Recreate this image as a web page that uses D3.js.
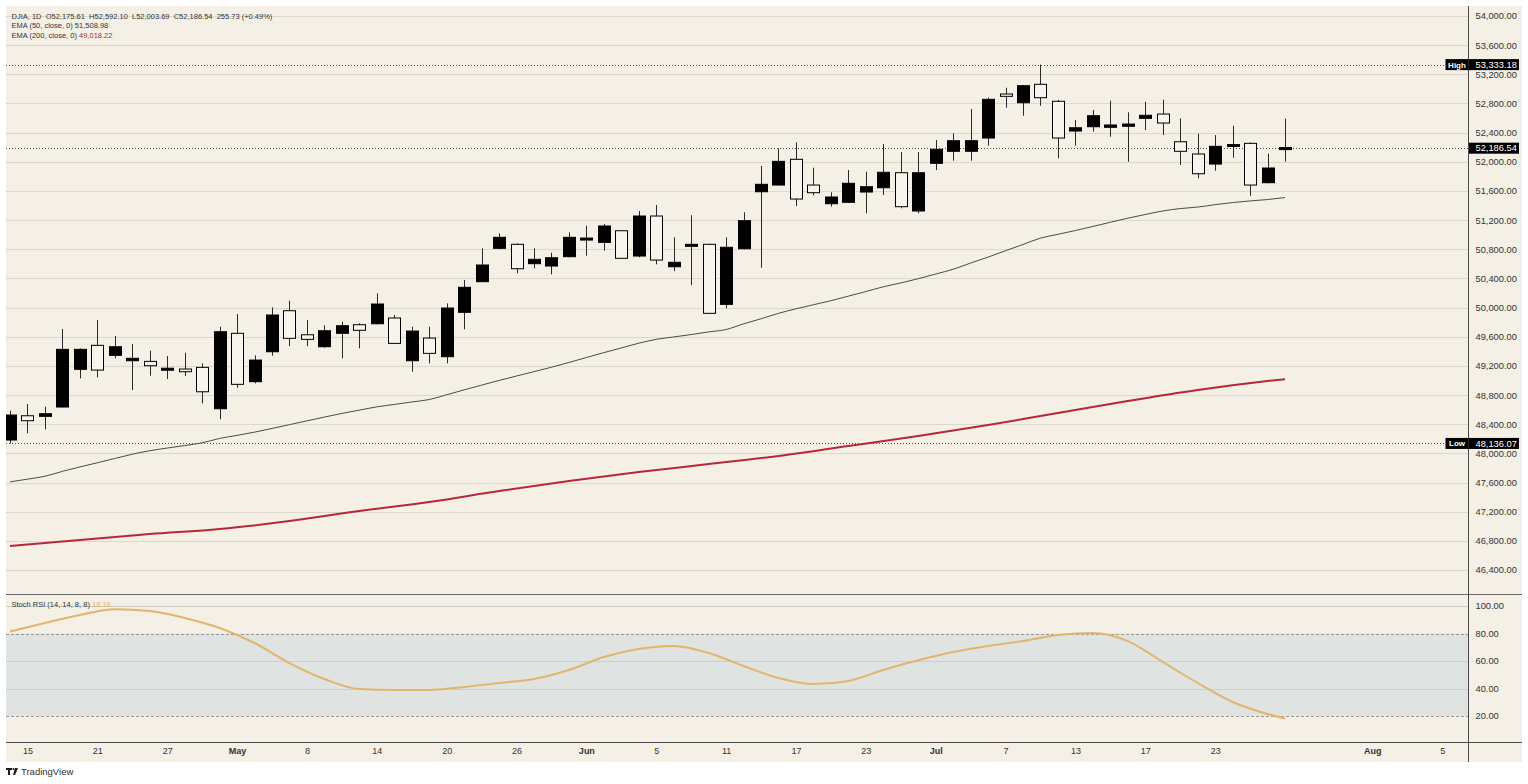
<!DOCTYPE html>
<html>
<head>
<meta charset="utf-8">
<script src="https://cdn.jsdelivr.net/npm/d3@7"></script>
<style>
  body { margin: 0; background: #fff; }
  text { font-family: "Liberation Sans", Arial, sans-serif; }
</style>
</head>
<body>
<svg id="chart"></svg>
<script>
////Data
const opens  = [48183,48516,48508,48636,49153,49482,49345,49271,49262,49143,49157,49180,48612,49647,48983,49394,49957,49627,49463,49647,
                49765,49778,49857,49271,49582,49326,49935,50355,50813,50868,50602,50570,50698,50935,50895,51054,50707,51256,50560,50850,
                50868,50044,50807,51589,51681,52034,51681,51425,51444,51585,51644,51850,51325,51979,52144,52144,52326,52930,52810,53063,
                52830,52422,52481,52473,52487,52596,52655,52275,52107,51969,52212,52253,51713,52175.61];
const highs  = [48585,48677,48640,49706,49440,49829,49610,49500,49408,49335,49381,49235,49737,49911,49345,50003,50094,49829,49756,49806,
                49784,50195,49898,49737,49737,50058,50378,50813,51019,50882,50813,50752,51032,51123,51146,51064,51325,51407,50964,51266,
                50875,50964,51307,51942,52185,52267,51919,51581,51887,51864,52244,52134,52134,52299,52391,52724,52879,53016,53050,53333.18,
                52848,52573,52710,52838,52679,52824,52852,52596,52385,52367,52495,52267,52111,52592.10];
const lows   = [48136.07,48275,48330,48630,49029,49043,49304,48869,49065,49020,49061,48686,48467,48900,48961,49339,49472,49472,49450,49304,
                49441,49770,49500,49120,49235,49235,49702,50350,50800,50470,50538,50456,50690,50711,50780,50670,50690,50593,50501,50309,
                49915,49990,50800,50547,51675,51393,51540,51384,51440,51293,51544,51362,51293,51887,52015,52015,52221,52742,52632,52769,
                52048,52221,52413,52344,52001,52436,52367,51956,51773,51878,52056,51534,51705,52003.69];
const closes = [48526,48448,48544,49427,49427,49143,49463,49304,49202,49166,49120,48845,49669,48947,49280,49898,49578,49564,49682,49751,
                49688,50049,49509,49678,49372,49994,50278,50584,50964,50533,50662,50684,50964,50945,51119,50676,51256,50652,50621,50858,
                49921,50827,51192,51691,52006,51489,51576,51517,51705,51658,51856,51384,51850,52171,52289,52289,52857,52898,53044,52879,
                52326,52467,52632,52505,52518,52638,52532,52144,51836,52212,52234,51681,51915,52186.54];

const ema50 = [47609,47646,47686,47753,47814,47871,47930,47988,48036,48073,48107,48144,48205,48247,48291,48342,48394,48446,48498,48548,
               48593,48638,48671,48705,48738,48804,48871,48936,49000,49061,49121,49182,49247,49315,49382,49446,49511,49564,49597,49630,
               49666,49699,49777,49846,49921,49983,50039,50094,50157,50220,50285,50338,50396,50460,50526,50611,50693,50780,50866,50953,
               51005,51057,51113,51170,51226,51277,51325,51358,51379,51412,51441,51463,51482,51508.98];

const ema200Idx = [0,4,8,12,16,20,24,28,32,36,40,44,48,52,56,60,64,68,72,73];
const ema200    = [46728,46811,46893,46962,47071,47209,47332,47483,47620,47744,47853,47963,48100,48238,48389,48553,48718,48869,48992,49018.22];

const stochIdx = [0,2,4,6,8,10,12,14,16,18,20,22,24,26,28,30,32,34,36,38,40,42,44,46,48,50,52,54,56,58,60,62,64,66,68,70,72,73];
const stochVal = [81.5,87.6,93.5,97.6,96.4,91.3,84,73.1,58.5,46.9,39.6,38.9,38.9,41.1,44,46.9,53.5,62.9,68.7,70.9,
                  65.8,56.4,47.6,43.2,45.5,53.5,60.5,66.5,70.9,74.5,78.9,80.4,74.5,59.3,44,30.2,21.5,18.18];

const tickIdx    = [1,5,9,13,17,21,25,29,33,37,41,45,49,53,57,61,65,69,78,82];
const tickLabels = ["15","21","27","May","8","14","20","26","Jun","5","11","17","23","Jul","7","13","17","23","Aug","5"];
const monthLabels = ["May","Jun","Jul","Aug"];

const priceTicks = d3.range(46400, 54001, 400);
const stochTicks = [20, 40, 60, 80, 100];

const highValue = 53333.18;
const lowValue = 48136.07;
const lastValue = 52186.54;

////Layout
const width = 1528;
const height = 784;
const frameLeft = 6;
const frameTop = 6;
const plotRight = 1468.5;
const frameRight = 1522;
const mainBottom = 594;
const stochBottom = 742;
const frameBottom = 762;

const bg = "#f4f0e6";
const gridColor = "#dcd8ce";
const textColor = "#333";
const red = "#b3283a";
const orange = "#e2b56c";

const svg = d3.select("#chart").attr("width", width).attr("height", height);

const x = d3.scaleLinear().domain([0, 73]).range([10, 1285]);
const y = d3.scaleLinear().domain([46400, 54000]).range([570, 16]);
const yS = d3.scaleLinear().domain([0, 100]).range([743.5, 606]);

svg.append("rect").attr("x", frameLeft).attr("y", frameTop)
  .attr("width", frameRight - frameLeft).attr("height", frameBottom - frameTop).attr("fill", bg);

const defs = svg.append("defs");
defs.append("clipPath").attr("id", "mainClip").append("rect")
  .attr("x", frameLeft).attr("y", frameTop).attr("width", plotRight - frameLeft).attr("height", mainBottom - frameTop);
defs.append("clipPath").attr("id", "stochClip").append("rect")
  .attr("x", frameLeft).attr("y", mainBottom).attr("width", plotRight - frameLeft).attr("height", stochBottom - mainBottom);

// price grid
svg.append("g").selectAll("line").data(priceTicks).enter().append("line")
  .attr("x1", frameLeft).attr("x2", plotRight)
  .attr("y1", d => Math.round(y(d)) + 0.5).attr("y2", d => Math.round(y(d)) + 0.5)
  .attr("stroke", gridColor).attr("stroke-width", 1);

// stoch band + grid
svg.append("rect").attr("x", frameLeft).attr("width", plotRight - frameLeft)
  .attr("y", yS(80)).attr("height", yS(20) - yS(80)).attr("fill", "#dfe3e1");
svg.append("g").selectAll("line").data([100, 60, 40]).enter().append("line")
  .attr("x1", frameLeft).attr("x2", plotRight)
  .attr("y1", d => Math.round(yS(d)) + 0.5).attr("y2", d => Math.round(yS(d)) + 0.5)
  .attr("stroke", "#cfcfca");
svg.append("g").selectAll("line").data([80, 20]).enter().append("line")
  .attr("x1", frameLeft).attr("x2", plotRight)
  .attr("y1", d => Math.round(yS(d)) + 0.5).attr("y2", d => Math.round(yS(d)) + 0.5)
  .attr("stroke", "#9a9a9a").attr("stroke-dasharray", "3,2");

const main = svg.append("g").attr("clip-path", "url(#mainClip)");

// moving averages
const ema50Line = d3.line().x((d, i) => x(i)).y(d => y(d)).curve(d3.curveMonotoneX);
main.append("path").datum(ema50).attr("d", ema50Line)
  .attr("fill", "none").attr("stroke", "#4a4a4a").attr("stroke-width", 1);

const ema200Line = d3.line().x((d, i) => x(ema200Idx[i])).y(d => y(d)).curve(d3.curveMonotoneX);
main.append("path").datum(ema200).attr("d", ema200Line)
  .attr("fill", "none").attr("stroke", red).attr("stroke-width", 2);

// dotted reference lines
[highValue, lowValue, lastValue].forEach(v => {
  main.append("line").attr("x1", frameLeft).attr("x2", plotRight)
    .attr("y1", Math.round(y(v)) + 0.5).attr("y2", Math.round(y(v)) + 0.5)
    .attr("stroke", "#555").attr("stroke-width", 1).attr("stroke-dasharray", "1,2");
});

// candles
const bodyW = 12;
const candles = main.selectAll("g.candle").data(opens).enter().append("g").attr("class", "candle");
candles.append("line")
  .attr("x1", (d, i) => Math.round(x(i)) + 0.5).attr("x2", (d, i) => Math.round(x(i)) + 0.5)
  .attr("y1", (d, i) => y(highs[i])).attr("y2", (d, i) => y(lows[i]))
  .attr("stroke", "#2a2a2a").attr("stroke-width", 1);
candles.append("rect")
  .attr("x", (d, i) => Math.round(x(i)) - bodyW / 2 + 0.5)
  .attr("width", bodyW)
  .attr("y", (d, i) => {
    const t = y(Math.max(opens[i], closes[i]));
    const b = y(Math.min(opens[i], closes[i]));
    return b - t < 2 ? (t + b) / 2 - 1 : t;
  })
  .attr("height", (d, i) => Math.max(2, y(Math.min(opens[i], closes[i])) - y(Math.max(opens[i], closes[i]))))
  .attr("fill", (d, i) => closes[i] >= opens[i] ? "#000" : "#f7f4ee")
  .attr("stroke", "#000").attr("stroke-width", 1);

// stoch rsi
const stochLine = d3.line().x((d, i) => x(stochIdx[i])).y(d => yS(d)).curve(d3.curveMonotoneX);
svg.append("g").attr("clip-path", "url(#stochClip)").append("path").datum(stochVal).attr("d", stochLine)
  .attr("fill", "none").attr("stroke", orange).attr("stroke-width", 2);

// frame lines
svg.append("line").attr("x1", frameLeft).attr("x2", frameRight).attr("y1", mainBottom + 0.5).attr("y2", mainBottom + 0.5)
  .attr("stroke", "#6b6b6b");
svg.append("line").attr("x1", frameLeft).attr("x2", frameRight).attr("y1", stochBottom + 0.5).attr("y2", stochBottom + 0.5)
  .attr("stroke", "#4a4a4a");
svg.append("line").attr("x1", plotRight).attr("x2", plotRight).attr("y1", frameTop).attr("y2", frameBottom)
  .attr("stroke", "#4a4a4a");

// axes
const yAxis = d3.axisRight(y).tickValues(priceTicks).tickFormat(d3.format(",.2f")).tickSize(0).tickPadding(7);
const gy = svg.append("g").attr("transform", "translate(" + plotRight + ",0)").call(yAxis);
const ySAxis = d3.axisRight(yS).tickValues(stochTicks).tickFormat(d3.format(".2f")).tickSize(0).tickPadding(7);
const gys = svg.append("g").attr("transform", "translate(" + plotRight + ",0)").call(ySAxis);
const xAxis = d3.axisBottom(x).tickValues(tickIdx).tickFormat(d => tickLabels[tickIdx.indexOf(d)]).tickSize(0).tickPadding(6);
const gx = svg.append("g").attr("transform", "translate(0," + stochBottom + ")").call(xAxis);
[gy, gys].forEach(g => {
  g.select(".domain").remove();
  g.selectAll("text").attr("fill", textColor).style("font-size", "9.3px")
    .style("font-family", "'Liberation Sans', Arial, sans-serif");
});
gx.select(".domain").remove();
gx.selectAll("text").attr("fill", textColor).style("font-size", "9px")
  .style("font-family", "'Liberation Sans', Arial, sans-serif")
  .style("font-weight", d => monthLabels.includes(tickLabels[tickIdx.indexOf(d)]) ? "bold" : "normal");

// price labels on the axis
const tagH = 11;
const addTag = (v, name) => {
  const cy = y(v);
  svg.append("rect").attr("x", plotRight + 0.5).attr("y", cy - tagH / 2).attr("width", 50).attr("height", tagH).attr("fill", "#000");
  svg.append("text").attr("x", plotRight + 7).attr("y", cy + 3.3).attr("fill", "#fff")
    .style("font-size", "9.3px").text(d3.format(",.2f")(v));
  if (name) {
    svg.append("rect").attr("x", plotRight - 23).attr("y", cy - tagH / 2).attr("width", 23).attr("height", tagH).attr("fill", "#000");
    svg.append("text").attr("x", plotRight - 11.5).attr("y", cy + 3).attr("fill", "#fff").attr("text-anchor", "middle")
      .style("font-size", "8px").style("font-weight", "bold").text(name);
  }
};
addTag(highValue, "High");
addTag(lowValue, "Low");
addTag(lastValue, null);

// legend
const legend = svg.append("g").style("font-size", "7.5px").attr("fill", textColor);
legend.append("text").attr("x", 11.5).attr("y", 18.5).style("white-space", "pre")
  .text("DJIA, 1D  O52,175.61  H52,592.10  L52,003.69  C52,186.54  255.73 (+0.49%)");
const l2 = legend.append("text").attr("x", 11.5).attr("y", 28).style("white-space", "pre");
l2.append("tspan").text("EMA (50, close, 0) ");
l2.append("tspan").text("51,508.98");
const l3 = legend.append("text").attr("x", 11.5).attr("y", 37.5).style("white-space", "pre");
l3.append("tspan").text("EMA (200, close, 0) ");
l3.append("tspan").attr("fill", red).text("49,018.22");
const l4 = legend.append("text").attr("x", 11.5).attr("y", 607).style("white-space", "pre");
l4.append("tspan").text("Stoch RSI (14, 14, 8, 8) ");
l4.append("tspan").attr("fill", orange).text("18.18");

// TradingView mark
const logo = svg.append("g").attr("fill", "#1e1e1e");
logo.append("path").attr("d", "M6,768 h6 v2 h-2 v5 h-2 v-5 h-2 z");
logo.append("circle").attr("cx", 13.5).attr("cy", 769).attr("r", 1);
logo.append("path").attr("d", "M15,768 h3 l-3,7 h-2 z");
logo.append("text").attr("x", 21).attr("y", 775).style("font-size", "9.5px").attr("fill", "#333").text("TradingView");
</script>
</body>
</html>
